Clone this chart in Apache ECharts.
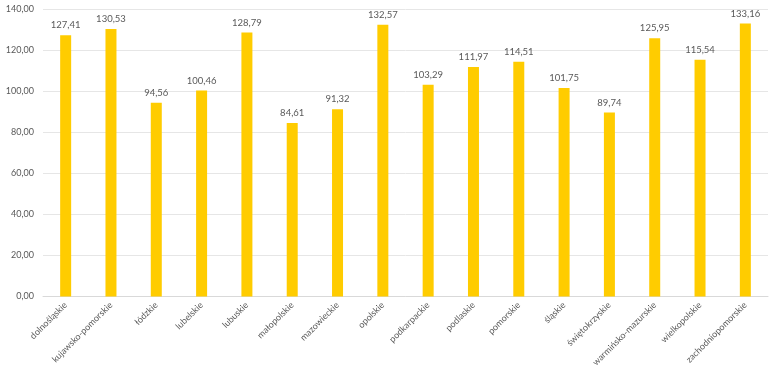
<!DOCTYPE html>
<html><head><meta charset="utf-8">
<script src="https://cdn.jsdelivr.net/npm/echarts@6/dist/echarts.min.js"></script>
<style>html,body{margin:0;padding:0;background:#fff}#c{width:772px;height:374px}</style>
</head><body><div id="c"></div>
<script>
const categories = ["dolnośląskie","kujawsko-pomorskie","łódzkie","lubelskie","lubuskie","małopolskie","mazowieckie","opolskie","podkarpackie","podlaskie","pomorskie","śląskie","świętokrzyskie","warmińsko-mazurskie","wielkopolskie","zachodniopomorskie"];
const values = [127.41,130.53,94.56,100.46,128.79,84.61,91.32,132.57,103.29,111.97,114.51,101.75,89.74,125.95,115.54,133.16];
const fmt = v => v.toFixed(2).replace('.', ',');
const chart = echarts.init(document.getElementById('c'), null, {renderer:'canvas'});
chart.setOption({
  animation:false,
  textStyle:{fontFamily:'Lato, "Liberation Sans", sans-serif'},
  grid:{left:43,right:4,top:9.5,bottom:77.5,containLabel:false},
  xAxis:{type:'category',data:categories,
    axisLine:{lineStyle:{color:'#d9d9d9'}},axisTick:{show:false},
    axisLabel:{rotate:45,color:'#595959',fontSize:9,interval:0,margin:7}},
  yAxis:{type:'value',min:0,max:140,interval:20,
    axisLine:{show:false},axisTick:{show:false},
    splitLine:{lineStyle:{color:'#e6e6e6'}},
    axisLabel:{color:'#595959',fontSize:9,margin:9,formatter:v=>fmt(v)}},
  series:[{type:'bar',data:values,barWidth:11,
    itemStyle:{color:'#FFCC00'},
    label:{show:true,position:'top',distance:5,color:'#595959',fontSize:9.5,formatter:p=>fmt(p.value)}}]
});
</script></body></html>
